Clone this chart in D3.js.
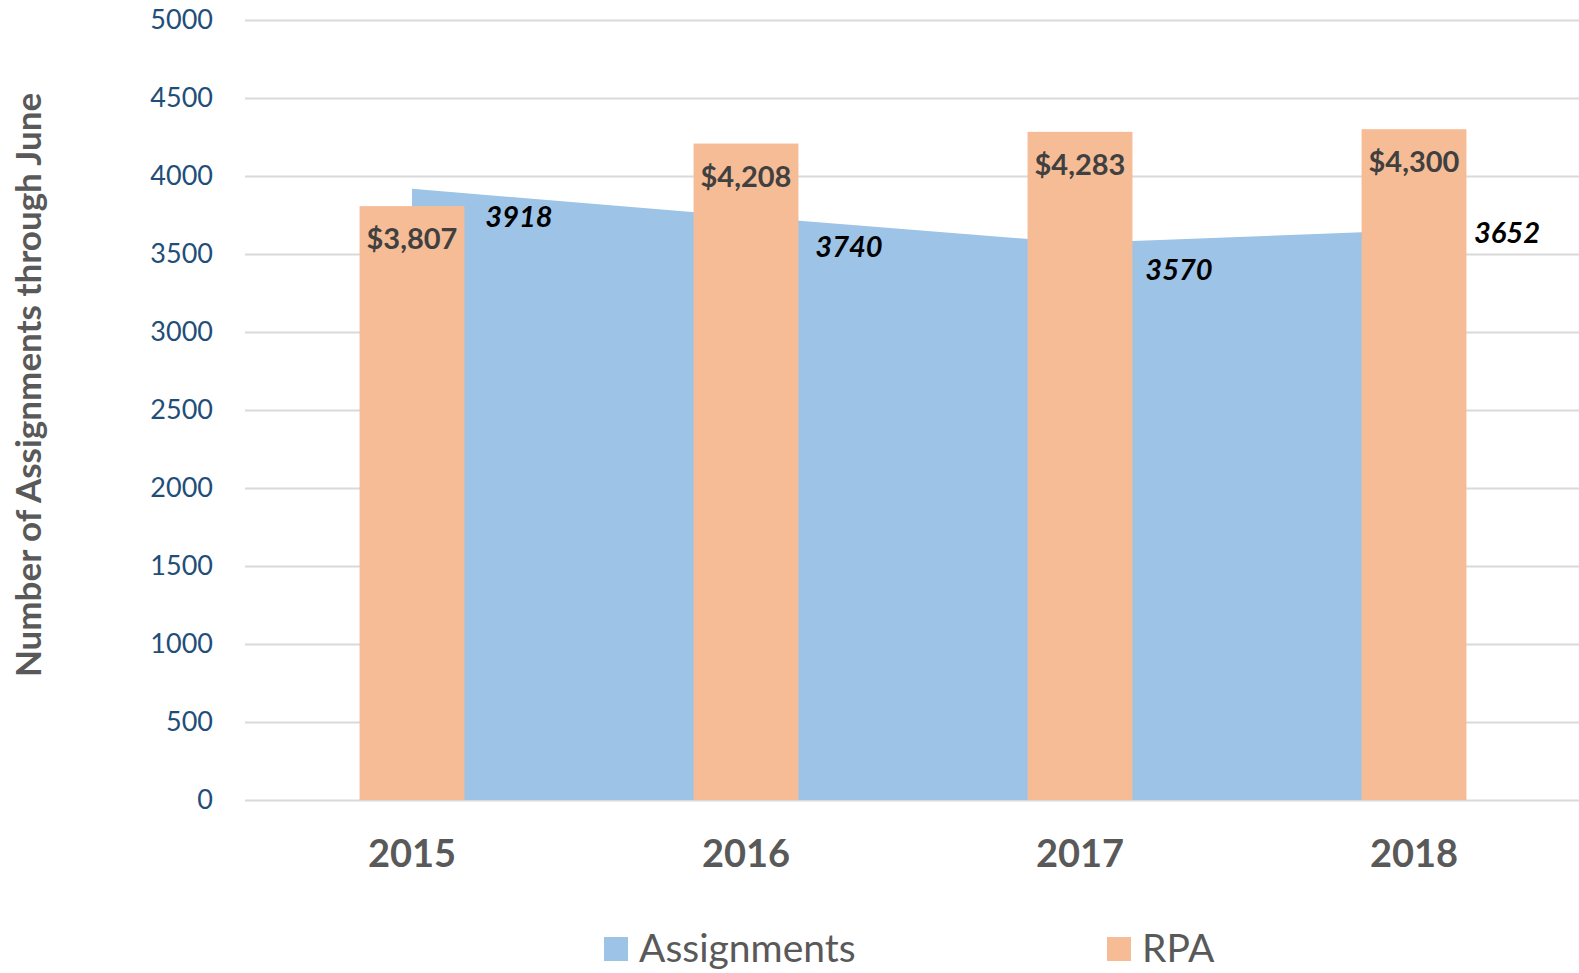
<!DOCTYPE html>
<html>
<head>
<meta charset="utf-8">
<script src="https://cdn.jsdelivr.net/npm/d3@7"></script>
<style>
    body { margin: 0; background: #fff; }
    svg, svg text { font-family: Lato, "Open Sans", sans-serif; }
    .axis--y .domain, .axis--x .domain { display: none; }
    .axis--y line { stroke: #d9d9d9; stroke-width: 2; }
    .axis--y text { fill: #1f4e79; font-size: 27px; }
    .axis--x line { display: none; }
    .axis--x text { fill: #595959; font-size: 38px; font-weight: bold; }
</style>
</head>
<body>
<div id="graph"></div>
<script>
var years = ["2015", "2016", "2017", "2018"];
var assignments = [3918, 3740, 3570, 3652];
var rpa = [3807, 4208, 4283, 4300];
var yTicks = [0, 500, 1000, 1500, 2000, 2500, 3000, 3500, 4000, 4500, 5000];
var seriesNames = ["Assignments", "RPA"];

// hand nudges of the assignment labels, as in the source chart
var labelNudge = [[107, 28], [103, 30], [99, 27], [93, 3]];

var width = 1579, height = 973;
var plotLeft = 245, plotRight = 1581, plotTop = 20, plotBottom = 800;
var blue = "#9dc3e6", orange = "#f5bc96";

var svg = d3.select("#graph").append("svg")
    .attr("width", width)
    .attr("height", height);

var x = d3.scaleBand().domain(years).range([plotLeft, plotRight]).padding(0);
var y = d3.scaleLinear().domain([0, 5000]).range([plotBottom, plotTop]);
var cx = function(d) { return x(d) + x.bandwidth() / 2; };
var barW = x.bandwidth() * 0.314;

svg.append("g")
    .attr("class", "axis axis--y")
    .attr("transform", "translate(" + plotLeft + ",0)")
    .call(d3.axisLeft(y).tickValues(yTicks).tickSize(-(width - plotLeft)).tickPadding(32).tickFormat(d3.format("d")));

var rows = years.map(function(d, i) {
    return { year: d, a: assignments[i], r: rpa[i], nudge: labelNudge[i] };
});

var area = d3.area()
    .x(function(d) { return cx(d.year); })
    .y0(y(0))
    .y1(function(d) { return y(d.a); });

svg.append("path")
    .datum(rows)
    .attr("fill", blue)
    .attr("d", area);

svg.selectAll(".bar")
    .data(rows)
    .enter()
    .append("rect")
    .attr("class", "bar")
    .attr("x", function(d) { return cx(d.year) - barW / 2; })
    .attr("width", barW)
    .attr("y", function(d) { return y(d.r); })
    .attr("height", function(d) { return y(0) - y(d.r); })
    .attr("fill", orange);

svg.selectAll(".rpa-label")
    .data(rows)
    .enter()
    .append("text")
    .attr("class", "rpa-label")
    .attr("x", function(d) { return cx(d.year); })
    .attr("y", function(d) { return y(d.r) + 43; })
    .attr("text-anchor", "middle")
    .attr("fill", "#404040")
    .attr("font-size", 29)
    .attr("font-weight", "bold")
    .text(function(d) { return "$" + d3.format(",")(d.r); });

svg.selectAll(".a-label")
    .data(rows)
    .enter()
    .append("text")
    .attr("class", "a-label")
    .attr("x", function(d) { return cx(d.year) + d.nudge[0]; })
    .attr("y", function(d) { return y(d.a) + d.nudge[1]; })
    .attr("dy", "0.35em")
    .attr("text-anchor", "middle")
    .attr("fill", "#000")
    .attr("font-size", 29)
    .attr("font-weight", "bold")
    .attr("font-style", "italic")
    .text(function(d) { return d.a; });

svg.append("g")
    .attr("class", "axis axis--x")
    .attr("transform", "translate(0," + plotBottom + ")")
    .call(d3.axisBottom(x).tickSize(0).tickPadding(40));

svg.append("text")
    .attr("transform", "translate(41,385) rotate(-90)")
    .attr("text-anchor", "middle")
    .attr("fill", "#595959")
    .attr("font-size", 35)
    .attr("font-weight", "bold")
    .text("Number of Assignments through June");

var legendX = [604, 1107];
var legend = svg.selectAll(".legend")
    .data(seriesNames)
    .enter()
    .append("g")
    .attr("class", "legend")
    .attr("transform", function(d, i) { return "translate(" + legendX[i] + ",937)"; });

legend.append("rect")
    .attr("width", 24)
    .attr("height", 24)
    .attr("fill", function(d, i) { return i === 0 ? blue : orange; });

legend.append("text")
    .attr("x", 35)
    .attr("y", 25)
    .attr("fill", "#595959")
    .attr("font-size", 39)
    .text(function(d) { return d; });
</script>
</body>
</html>
